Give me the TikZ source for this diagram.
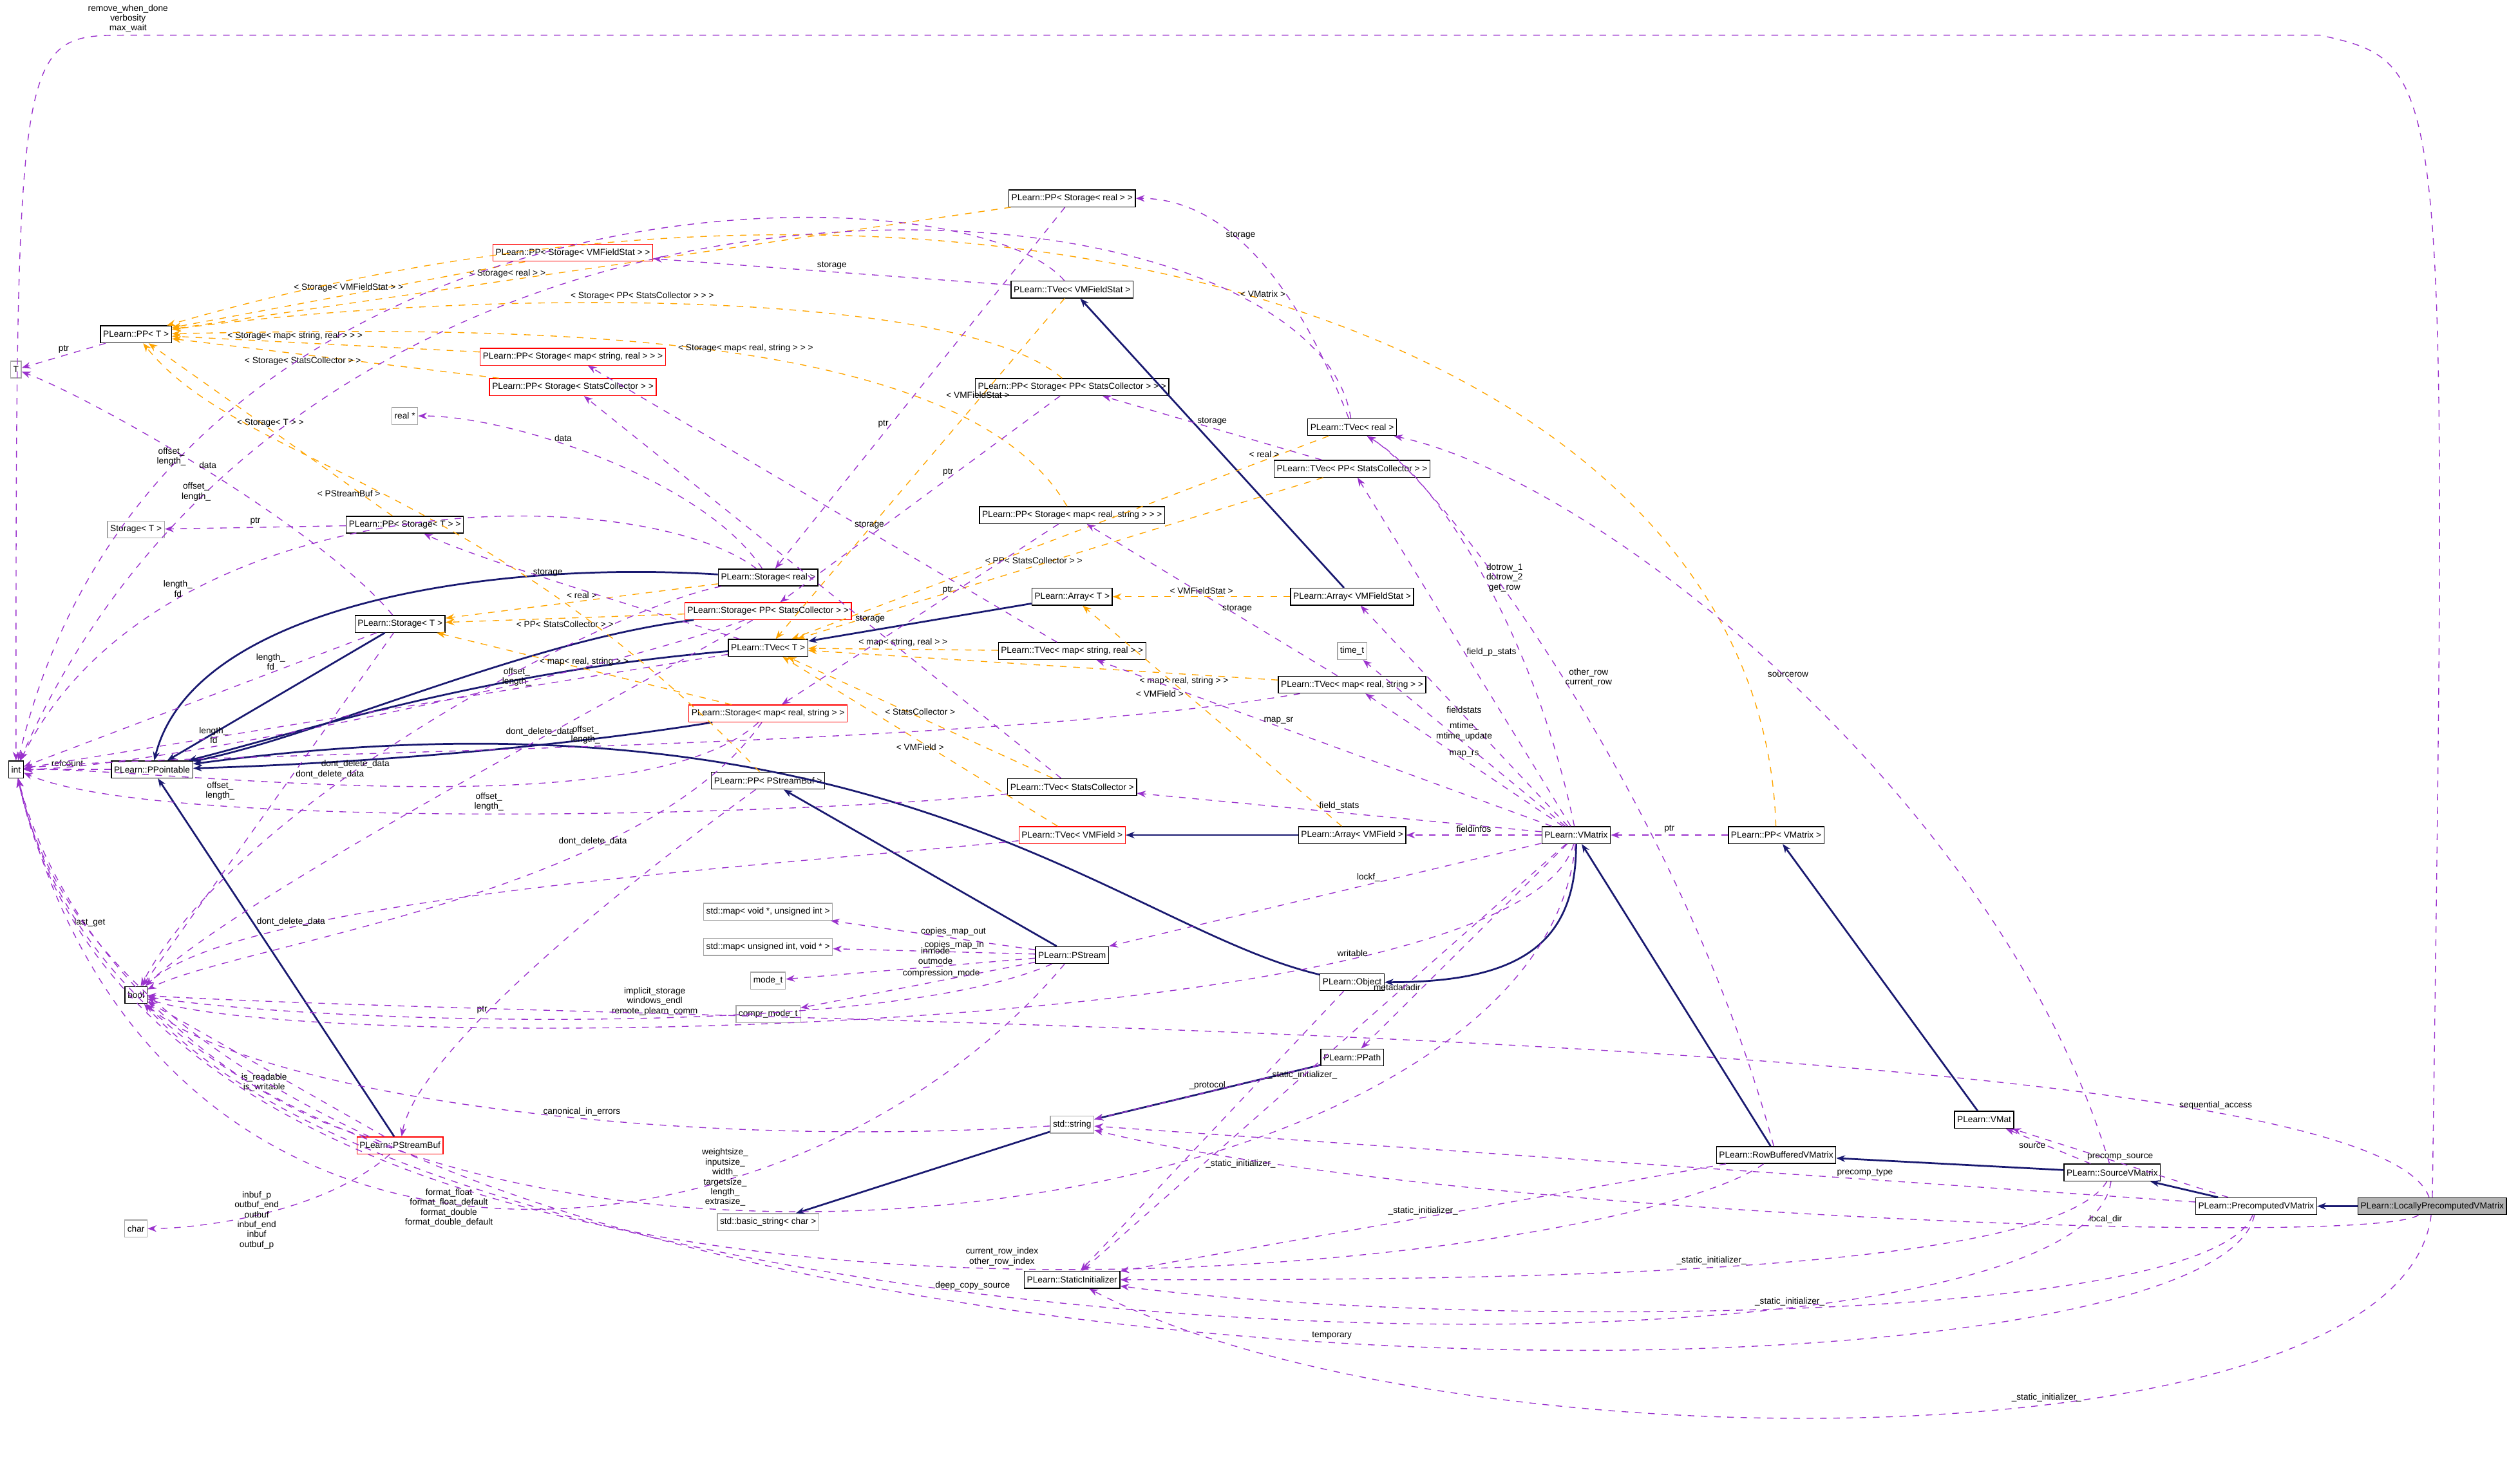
\documentclass[tikz,border=0pt]{standalone}
\usepackage{fontspec}
\setmainfont{Liberation Sans}
\usetikzlibrary{arrows.meta,positioning}
\definecolor{usecol}{HTML}{9A32CD}
\definecolor{tplcol}{HTML}{FFA500}
\definecolor{inhcol}{HTML}{191970}

\begin{document}
\begin{tikzpicture}[x=0.0255cm, y=-0.0255cm,
    cls/.style={rectangle, draw, inner sep=1.2pt, minimum height=0.27cm, font=\fontsize{4}{4.5}\selectfont},
    ext/.style={cls, draw=gray!70},
    bad/.style={cls, draw=red},
    uses/.style={draw=usecol, dashed, -{Stealth[length=4pt,width=3pt]}},
    tpl/.style={draw=tplcol, dashed, -{Stealth[length=4pt,width=3pt]}},
    inh/.style={draw=inhcol, thick, -{Stealth[length=4pt,width=3pt]}},
    lbl/.style={font=\fontsize{4}{4.5}\selectfont, align=center, inner sep=1pt, text=black}
]
    \useasboundingbox (0,0) rectangle (1568,927.6);

    % Left column
    \node[cls] (int) at (10,481) {int};
    \node[ext] (T) at (10,231) {T};
    \node[cls] (ppt) at (85,209) {PLearn::PP< T >};
    \node[cls] (bool) at (85,622) {bool};
    \node[ext] (char) at (85,768) {char};
    \node[ext] (stt) at (85,331) {Storage< T >};
    \node[cls] (ppointable) at (95,481) {PLearn::PPointable};

    % Second column
    \node[ext] (realp) at (253,260) {real *};
    \node[cls] (ppstt) at (253,328) {PLearn::PP< Storage< T > >};
    \node[cls] (storaget) at (250,390) {PLearn::Storage< T >};
    \node[bad] (pstreambuf) at (250,716) {PLearn::PStreamBuf};

    % Third column
    \node[bad] (ppsvmfs) at (358,158) {PLearn::PP< Storage< VMFieldStat > >};
    \node[bad] (ppsmsr) at (358,223) {PLearn::PP< Storage< map< string, real > > >};
    \node[bad] (ppssc) at (358,242) {PLearn::PP< Storage< StatsCollector > >};
    \node[cls] (storreal) at (480,361) {PLearn::Storage< real >};
    \node[bad] (storppsc) at (480,382) {PLearn::Storage< PP< StatsCollector > >};
    \node[cls] (tvect) at (480,405) {PLearn::TVec< T >};
    \node[bad] (stormrs) at (480,446) {PLearn::Storage< map< real, string > >};
    \node[cls] (pppsb) at (480,488) {PLearn::PP< PStreamBuf >};
    \node[ext] (mapvu) at (480,570) {std::map< void *, unsigned int >};
    \node[ext] (mapuv) at (480,592) {std::map< unsigned int, void * >};
    \node[ext] (modet) at (480,613) {mode\_t};
    \node[ext] (comprt) at (480,634) {compr\_mode\_t};
    \node[ext] (bstr) at (480,764) {std::basic\_string< char >};

    % Fourth column
    \node[cls] (ppsreal) at (670,124) {PLearn::PP< Storage< real > >};
    \node[cls] (tvecvmfs) at (670,181) {PLearn::TVec< VMFieldStat >};
    \node[cls] (ppsppsc) at (670,242) {PLearn::PP< Storage< PP< StatsCollector > > >};
    \node[cls] (ppsmrs) at (670,322) {PLearn::PP< Storage< map< real, string > > >};
    \node[cls] (arrayt) at (670,373) {PLearn::Array< T >};
    \node[cls] (tvecmsr) at (670,407) {PLearn::TVec< map< string, real > >};
    \node[cls] (tvecsc) at (670,492) {PLearn::TVec< StatsCollector >};
    \node[bad] (tvecvmf) at (670,522) {PLearn::TVec< VMField >};
    \node[cls] (pstream) at (670,597) {PLearn::PStream};
    \node[ext] (stdstr) at (670,703) {std::string};
    \node[cls] (statinit) at (670,800) {PLearn::StaticInitializer};

    % Fifth column
    \node[cls] (tvecreal) at (845,267) {PLearn::TVec< real >};
    \node[cls] (tvecppsc) at (845,293) {PLearn::TVec< PP< StatsCollector > >};
    \node[cls] (arrvmfs) at (845,373) {PLearn::Array< VMFieldStat >};
    \node[ext] (timet) at (845,407) {time\_t};
    \node[cls] (tvecmrs) at (845,428) {PLearn::TVec< map< real, string > >};
    \node[cls] (arrvmf) at (845,522) {PLearn::Array< VMField >};
    \node[cls] (object) at (845,614) {PLearn::Object};
    \node[cls] (ppath) at (845,661) {PLearn::PPath};

    % Right part
    \node[cls] (vmatrix) at (985,522) {PLearn::VMatrix};
    \node[cls] (ppvmatrix) at (1110,522) {PLearn::PP< VMatrix >};
    \node[cls] (vmat) at (1240,700) {PLearn::VMat};
    \node[cls] (rowbuf) at (1110,722) {PLearn::RowBufferedVMatrix};
    \node[cls] (sourcevm) at (1320,733) {PLearn::SourceVMatrix};
    \node[cls] (precomp) at (1410,754) {PLearn::PrecomputedVMatrix};
    \node[cls, fill=gray!60] (locprecomp) at (1520,754) {PLearn::LocallyPrecomputedVMatrix};

    % Inheritance
    \draw[inh] (storaget) -- (ppointable);
    \draw[inh] (storreal) .. controls (300,350) and (120,380) .. (ppointable);
    \draw[inh] (storppsc) .. controls (330,400) and (200,460) .. (ppointable);
    \draw[inh] (stormrs) .. controls (330,470) and (200,478) .. (ppointable);
    \draw[inh] (tvect) .. controls (300,420) and (180,460) .. (ppointable);
    \draw[inh] (pstreambuf) -- (ppointable);
    \draw[inh] (object) .. controls (700,580) and (550,420) .. (ppointable);
    \draw[inh] (arrayt) -- (tvect);
    \draw[inh] (arrvmfs) -- (tvecvmfs);
    \draw[inh] (arrvmf) -- (tvecvmf);
    \draw[inh] (pstream) -- (pppsb);
    \draw[inh] (stdstr) -- (bstr);
    \draw[inh] (ppath) -- (stdstr);
    \draw[inh] (vmatrix) .. controls (985,590) and (950,614) .. (object);
    \draw[inh] (vmat) -- (ppvmatrix);
    \draw[inh] (rowbuf) -- (vmatrix);
    \draw[inh] (sourcevm) -- (rowbuf);
    \draw[inh] (precomp) -- (sourcevm);
    \draw[inh] (locprecomp) -- (precomp);

    % Template instances
    \draw[tpl] (ppsreal) -- node[lbl, above, pos=0.6] {< Storage< real > >} (ppt);
    \draw[tpl] (ppsvmfs) -- node[lbl, above] {< Storage< VMFieldStat > >} (ppt);
    \draw[tpl] (ppsppsc) .. controls (600,180) and (300,180) .. node[lbl, above, pos=0.55] {< Storage< PP< StatsCollector > > >} (ppt);
    \draw[tpl] (ppsmsr) -- node[lbl, above, pos=0.6] {< Storage< map< string, real > > >} (ppt);
    \draw[tpl] (ppssc) -- node[lbl, below, pos=0.6] {< Storage< StatsCollector > >} (ppt);
    \draw[tpl] (ppsmrs) .. controls (600,200) and (300,205) .. node[lbl, above, pos=0.45] {< Storage< map< real, string > > >} (ppt);
    \draw[tpl] (ppstt) -- node[lbl, above] {< Storage< T > >} (ppt);
    \draw[tpl] (pppsb) .. controls (300,300) and (150,290) .. node[lbl, pos=0.5, left] {< PStreamBuf >} (ppt);
    \draw[tpl] (ppvmatrix) .. controls (1100,200) and (600,60) .. node[lbl, above, pos=0.5] {< VMatrix >} (ppt);
    \draw[tpl] (storreal) -- node[lbl, above] {< real >} (storaget);
    \draw[tpl] (storppsc) -- node[lbl, below] {< PP< StatsCollector > >} (storaget);
    \draw[tpl] (stormrs) -- node[lbl, above] {< map< real, string > >} (storaget);
    \draw[tpl] (tvecreal) -- node[lbl, above, pos=0.12] {< real >} (tvect);
    \draw[tpl] (tvecvmfs) -- node[lbl, above, pos=0.3] {< VMFieldStat >} (tvect);
    \draw[tpl] (tvecppsc) -- node[lbl, above, pos=0.55] {< PP< StatsCollector > >} (tvect);
    \draw[tpl] (tvecmrs) -- node[lbl, below, pos=0.2] {< map< real, string > >} (tvect);
    \draw[tpl] (tvecmsr) -- node[lbl, above] {< map< string, real > >} (tvect);
    \draw[tpl] (tvecsc) -- node[lbl, above, pos=0.5] {< StatsCollector >} (tvect);
    \draw[tpl] (tvecvmf) -- node[lbl, below, pos=0.5] {< VMField >} (tvect);
    \draw[tpl] (arrvmfs) -- node[lbl, above] {< VMFieldStat >} (arrayt);
    \draw[tpl] (arrvmf) -- node[lbl, left, pos=0.6] {< VMField >} (arrayt);

    % Members, left part
    \draw[uses] (ppt) -- node[lbl, above] {ptr} (T);
    \draw[uses] (ppointable) -- node[lbl, above] {refcount} (int);
    \draw[uses] (storaget) .. controls (200,330) and (60,250) .. node[lbl, above, pos=0.5] {data} (T);
    \draw[uses] (storaget) -- node[lbl, above, pos=0.3] {length\_\\fd} (int);
    \draw[uses] (storaget) -- node[lbl, right, pos=0.4] {dont\_delete\_data} (bool);
    \draw[uses] (ppstt) -- node[lbl, above] {ptr} (stt);
    \draw[uses] (tvect) .. controls (400,380) and (300,350) .. node[lbl, above, pos=0.55] {storage} (ppstt);
    \draw[uses] (tvect) -- node[lbl, above, pos=0.3] {offset\_\\length\_} (int);
    \draw[uses] (storreal) .. controls (440,300) and (320,260) .. node[lbl, above, pos=0.6] {data} (realp);
    \draw[uses] (storreal) .. controls (400,300) and (100,300) .. node[lbl, above, pos=0.75] {length\_\\fd} (int);
    \draw[uses] (storreal) .. controls (380,380) and (150,500) .. node[lbl, above, pos=0.6] {dont\_delete\_data} (bool);
    \draw[uses] (storppsc) .. controls (380,420) and (100,480) .. node[lbl, above, pos=0.7] {length\_\\fd} (int);
    \draw[uses] (storppsc) .. controls (380,440) and (150,560) .. node[lbl, above, pos=0.35] {dont\_delete\_data} (bool);
    \draw[uses] (stormrs) .. controls (400,520) and (100,480) .. node[lbl, below, pos=0.7] {offset\_\\length\_} (int);
    \draw[uses] (stormrs) .. controls (400,560) and (150,590) .. node[lbl, above, pos=0.3] {dont\_delete\_data} (bool);
    \draw[uses] (pstreambuf) .. controls (200,760) and (120,768) .. node[lbl, right, pos=0.6] {inbuf\_p\\outbuf\_end\\outbuf\\inbuf\_end\\inbuf\\outbuf\_p} (char);
    \draw[uses] (pstreambuf) -- node[lbl, left, pos=0.4] {is\_readable\\is\_writable} (bool);
    \draw[uses] (pstreambuf) .. controls (150,690) and (40,600) .. node[lbl, above, pos=0.7] {last\_get} (int);
    \draw[uses] (pppsb) .. controls (380,560) and (260,660) .. node[lbl, left, pos=0.6] {ptr} (pstreambuf);

    % Members, middle part
    \draw[uses] (ppsreal) -- node[lbl, left, pos=0.6] {ptr} (storreal);
    \draw[uses] (tvecreal) .. controls (800,150) and (750,124) .. node[lbl, above, pos=0.5] {storage} (ppsreal);
    \draw[uses] (tvecreal) .. controls (820,100) and (200,50) .. node[lbl, above, pos=0.85] {offset\_\\length\_} (int);
    \draw[uses] (tvecvmfs) -- node[lbl, above] {storage} (ppsvmfs);
    \draw[uses] (tvecvmfs) .. controls (600,100) and (100,100) .. node[lbl, above, pos=0.8] {offset\_\\length\_} (int);
    \draw[uses] (tvecppsc) -- node[lbl, above] {storage} (ppsppsc);
    \draw[uses] (ppsppsc) -- node[lbl, above, pos=0.4] {ptr} (storppsc);
    \draw[uses] (tvecmsr) -- node[lbl, above, pos=0.4] {storage} (ppsmsr);
    \draw[uses] (tvecsc) -- node[lbl, above, pos=0.4] {storage} (ppssc);
    \draw[uses] (tvecsc) .. controls (500,510) and (100,520) .. node[lbl, above, pos=0.5] {offset\_\\length\_} (int);
    \draw[uses] (tvecvmf) .. controls (500,540) and (150,560) .. node[lbl, above, pos=0.75] {dont\_delete\_data} (bool);
    \draw[uses] (tvecmrs) -- node[lbl, above, pos=0.4] {storage} (ppsmrs);
    \draw[uses] (ppsmrs) -- node[lbl, above, pos=0.4] {ptr} (stormrs);
    \draw[uses] (tvecmrs) .. controls (600,470) and (100,470) .. node[lbl, above, pos=0.5] {offset\_\\length\_} (int);
    \draw[uses] (pstream) -- node[lbl, above, pos=0.4] {copies\_map\_out} (mapvu);
    \draw[uses] (pstream) -- node[lbl, above, pos=0.4] {copies\_map\_in} (mapuv);
    \draw[uses] (pstream) -- node[lbl, above, pos=0.4] {inmode\\outmode} (modet);
    \draw[uses] (pstream) -- node[lbl, above, pos=0.4] {compression\_mode} (comprt);
    \draw[uses] (pstream) .. controls (550,650) and (200,640) .. node[lbl, above, pos=0.45] {implicit\_storage\\windows\_endl\\remote\_plearn\_comm} (bool);
    \draw[uses] (pstream) .. controls (500,800) and (100,850) .. node[lbl, pos=0.5, left] {format\_float\\format\_float\_default\\format\_double\\format\_double\_default} (int);
    \draw[uses] (ppath) -- node[lbl, above, pos=0.5] {\_protocol} (stdstr);
    \draw[uses] (object) -- node[lbl, right, pos=0.3] {\_static\_initializer\_} (statinit);
    \draw[uses] (stdstr) .. controls (400,720) and (150,680) .. node[lbl, above, pos=0.4] {canonical\_in\_errors} (bool);

    % Members, right part
    \draw[uses] (ppvmatrix) -- node[lbl, above] {ptr} (vmatrix);
    \draw[uses] (vmatrix) .. controls (960,400) and (900,300) .. node[lbl, right, pos=0.5] {dotrow\_1\\dotrow\_2\\get\_row} (tvecreal);
    \draw[uses] (vmatrix) -- node[lbl, right, pos=0.5] {field\_p\_stats} (tvecppsc);
    \draw[uses] (vmatrix) -- node[lbl, above, pos=0.5] {fieldstats} (arrvmfs);
    \draw[uses] (vmatrix) -- node[lbl, above, pos=0.5] {mtime\_\\mtime\_update} (timet);
    \draw[uses] (vmatrix) -- node[lbl, above, pos=0.5] {map\_rs} (tvecmrs);
    \draw[uses] (vmatrix) -- node[lbl, above, pos=0.6] {map\_sr} (tvecmsr);
    \draw[uses] (vmatrix) -- node[lbl, above, pos=0.5] {field\_stats} (tvecsc);
    \draw[uses] (vmatrix) -- node[lbl, above] {fieldinfos} (arrvmf);
    \draw[uses] (vmatrix) -- node[lbl, above, pos=0.4] {lockf\_} (pstream);
    \draw[uses] (vmatrix) -- node[lbl, left, pos=0.7] {metadatadir} (ppath);
    \draw[uses] (vmatrix) -- node[lbl, right, pos=0.75] {\_static\_initializer\_} (statinit);
    \draw[uses] (vmatrix) .. controls (960,800) and (100,880) .. node[lbl, pos=0.55, above] {weightsize\_\\inputsize\_\\width\_\\targetsize\_\\length\_\\extrasize\_} (int);
    \draw[uses] (vmatrix) .. controls (950,650) and (200,660) .. node[lbl, above, pos=0.25] {writable} (bool);
    \draw[uses] (rowbuf) .. controls (1050,500) and (900,300) .. node[lbl, right, pos=0.5] {other\_row\\current\_row} (tvecreal);
    \draw[uses] (rowbuf) .. controls (1000,800) and (100,900) .. node[lbl, above, pos=0.45] {current\_row\_index\\other\_row\_index} (int);
    \draw[uses] (rowbuf) -- node[lbl, above, pos=0.5] {\_static\_initializer\_} (statinit);
    \draw[uses] (sourcevm) -- node[lbl, left, pos=0.5] {source} (vmat);
    \draw[uses] (sourcevm) .. controls (1250,500) and (1000,300) .. node[lbl, above, pos=0.5] {sourcerow} (tvecreal);
    \draw[uses] (sourcevm) .. controls (1280,800) and (900,800) .. node[lbl, above, pos=0.5] {\_static\_initializer\_} (statinit);
    \draw[uses] (sourcevm) .. controls (1300,880) and (300,860) .. node[lbl, above, pos=0.6] {deep\_copy\_source} (bool);
    \draw[uses] (precomp) -- node[lbl, above, pos=0.5] {precomp\_source} (vmat);
    \draw[uses] (precomp) -- node[lbl, above, pos=0.3] {precomp\_type} (stdstr);
    \draw[uses] (precomp) .. controls (1380,830) and (900,830) .. node[lbl, above, pos=0.5] {\_static\_initializer\_} (statinit);
    \draw[uses] (precomp) .. controls (1380,900) and (100,900) .. node[lbl, above, pos=0.45] {temporary} (int);
    \draw[uses] (locprecomp) .. controls (1530,40) .. (1450,22) -- (80,22) .. controls (10,22) .. node[lbl, above, pos=0] {remove\_when\_done\\verbosity\\max\_wait} (int);
    \draw[uses] (locprecomp) .. controls (1480,640) and (400,640) .. node[lbl, above, pos=0.2] {sequential\_access} (bool);
    \draw[uses] (locprecomp) .. controls (1480,780) and (900,760) .. node[lbl, above, pos=0.35] {local\_dir} (stdstr);
    \draw[uses] (locprecomp) .. controls (1500,920) and (900,920) .. node[lbl, above, pos=0.4] {\_static\_initializer\_} (statinit);
\end{tikzpicture}
\end{document}
